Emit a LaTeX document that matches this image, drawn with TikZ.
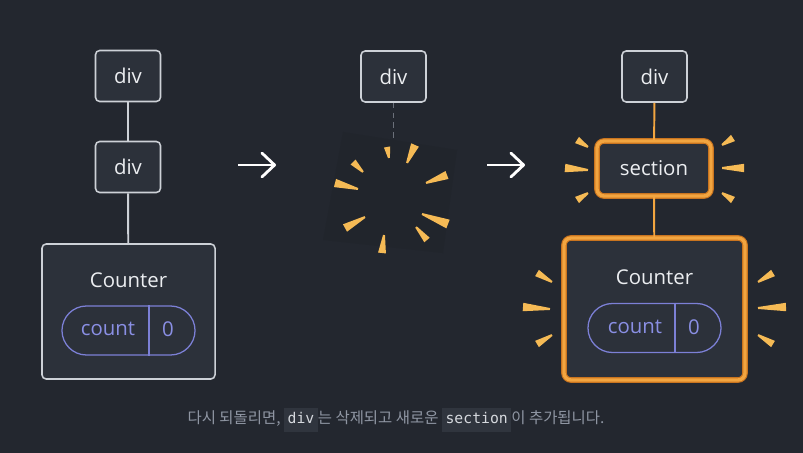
\documentclass[tikz,border=0pt]{standalone}
\usepackage{fontspec}
\setmainfont{Open Sans}
\setmonofont{DejaVu Sans Mono}
\newfontfamily\kr{Noto Sans CJK KR}
\usepackage{tikz}
\usetikzlibrary{arrows.meta,positioning,shapes.misc,calc}
\usepackage{xcolor}

\definecolor{bgcol}{HTML}{23272F}
\definecolor{boxfill}{HTML}{2C313A}
\definecolor{boxline}{HTML}{CDD1D7}
\definecolor{nodetext}{HTML}{ECEEF1}
\definecolor{orangemain}{HTML}{F2A540}
\definecolor{orangedark}{HTML}{C9741F}
\definecolor{raycol}{HTML}{F5BA55}
\definecolor{pillline}{HTML}{7C80D6}
\definecolor{pilltext}{HTML}{8A8FE4}
\definecolor{captext}{HTML}{8F96A3}
\definecolor{chipfill}{HTML}{30353E}
\definecolor{chiptext}{HTML}{D6D9DE}
\definecolor{dashcol}{HTML}{6B707A}
\definecolor{ghost}{HTML}{21252C}

\newcommand{\spark}[3][3pt]{\fill[ray] ($(#2)!0.7pt!90:(#3)$) -- ($(#3)!#1!-90:(#2)$) -- ($(#3)!#1!90:(#2)$) -- ($(#2)!0.7pt!-90:(#3)$) -- cycle;}
\newcommand{\chip}[1]{{\setlength{\fboxsep}{2.5pt}\colorbox{chipfill}{\fontsize{10.5}{12}\selectfont\ttfamily\color{chiptext}\strut#1}}}

\begin{document}
\begin{tikzpicture}[x=0.025cm, y=-0.025cm, every node/.style={font=\fontsize{14.5}{16}\selectfont, text=nodetext}]
\tikzset{box/.style={draw=boxline, line width=1.1pt, fill=boxfill, rounded corners=3pt, minimum width=1.625cm, minimum height=1.275cm, inner sep=0pt}}
\tikzset{newbox/.style={box, draw=orangedark, line width=0.8pt, double=orangemain, double distance=2.4pt, rounded corners=5pt}}
\tikzset{pill/.style={draw=pillline, line width=0.9pt, rounded rectangle, minimum width=3.325cm, minimum height=1.225cm, inner sep=0pt}}
\tikzset{link/.style={draw=boxline, line width=1.4pt}}
\tikzset{newlink/.style={draw=orangemain, line width=1.4pt}}
\tikzset{ray/.style={fill=raycol}}
\tikzset{go/.style={draw=white, line width=2pt, -{Straight Barb[length=9pt, width=17pt, line cap=round, line join=round]}}}
\fill[bgcol] (0,0) rectangle (803,453);

% before
\node[box] (d1) at (128,76) {div};
\node[box] (d2) at (128,167) {div};
\node[box, minimum width=4.325cm, minimum height=3.375cm] (cntL) at (128.5,311.5) {};
\node (cntLname) at (128.5,280) {Counter};
\node[pill] (pillL) at (128.5,330.5) {};
\node[text=pilltext] (countL) at (108,329) {count};
\node[text=pilltext] (zeroL) at (168,329) {0};
\draw[pillline, line width=0.9pt] (149,0 |- pillL.north) -- (149,0 |- pillL.south);
\draw[link] (d1)--(d2);
\draw[link] (d2)--(cntL);

\coordinate (a1s) at (238,165);
\coordinate (a1e) at (276,165);
\draw[go] (a1s)--(a1e);

% removed
\fill[ghost] (343,132) -- (457,150) -- (443,253) -- (323,240) -- cycle;
\node[box] (dm) at (393.5,76.5) {div};
\coordinate (dmend) at (393.5,140);
\draw[dashcol, line width=1.2pt, dash pattern=on 4pt off 3pt] (dm)--(dmend);
\spark[2.2pt]{389,158}{387,147}
\spark{407,163}{415,145}
\spark{426,183}{447,175}
\spark[2.5pt]{363,172}{353,162}
\spark{358,189}{335,183}
\spark[3.3pt]{422,214}{448,224}
\spark{365,217}{345,228}
\spark[2.5pt]{416,227}{427,240}
\spark[2.8pt]{384,235}{382,253}

\coordinate (a2s) at (487,165);
\coordinate (a2e) at (525,165);
\draw[go] (a2s)--(a2e);

% after
\node[box] (dr) at (654.5,76.5) {div};
\node[newbox, minimum width=2.85cm, minimum height=1.375cm] (sec) at (654,168.5) {section};
\node[newbox, minimum width=4.525cm, minimum height=3.55cm] (cntR) at (654.5,309) {};
\node (cntRname) at (654.5,277) {Counter};
\node[pill] (pillR) at (654.5,328) {};
\node[text=pilltext] (countR) at (635,327) {count};
\node[text=pilltext] (zeroR) at (694,327) {0};
\draw[pillline, line width=0.9pt] (675,0 |- pillR.north) -- (675,0 |- pillR.south);
\draw[newlink] (dr)--(sec);
\draw[newlink] (sec)--(cntR);

\spark[2.6pt]{588,147}{577,140}
\spark{588,170}{565,168}
\spark[2.6pt]{588,193}{577,200}
\spark[2.6pt]{722,145}{733,138}
\spark{722,168}{744,168}
\spark[2.6pt]{722,193}{733,200}
\spark[2.6pt]{552,282}{537,273}
\spark{550,309}{523,307}
\spark[2.6pt]{552,335}{537,344}
\spark[2.6pt]{758,282}{773,273}
\spark{758,308}{786,307}
\spark[2.6pt]{758,335}{773,344}

\node[font=\fontsize{11}{13}\selectfont, text=captext] (cap) at (396,420) {{\kr 다시 되돌리면, }\chip{div}{\kr 는 삭제되고 새로운 }\chip{section}{\kr 이 추가됩니다.}};
\end{tikzpicture}
\end{document}
